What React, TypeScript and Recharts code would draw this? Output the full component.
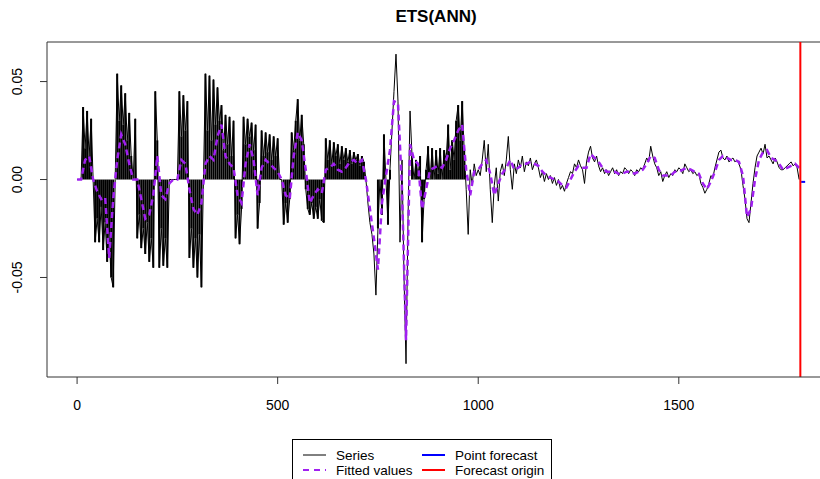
import React from 'react';
import { ComposedChart, Line, Bar, XAxis, YAxis, ReferenceLine } from 'recharts';

// all values in units of 0.001, one sample every STEP time units
const STEP = 5;

const seriesValues = [
  0, 0, 0, 37, 16, 35, 12, 31, 0, -32,
  -20, -32, -14, -36, -22, -42, -30, -50, -55, 0,
  54, 30, 48, 28, 44, 20, 34, 12, 0, 31,
  -30, -18, -35, -25, -38, -22, -42, -30, -45, 45,
  20, -45, -25, -44, -30, -45, 0, 0, 0, 0,
  0, 45, 22, 43, 25, 40, -40, -25, -45, -30,
  -50, -28, -55, 0, 54, 25, 53, 20, 51, 28,
  47, 30, 38, 15, 33, 18, 32, 12, 30, -30,
  -18, -33, -15, 32, 18, 31, 22, 29, 15, 28,
  -25, -12, 25, 12, 24, 14, 23, 10, 22, 12,
  21, 0, 0, -23, -12, -22, -10, 24, 15, 30,
  41, 20, 33, 18, -5, -15, -18, -12, -20, -14,
  -20, -10, -21, -22, 21, 10, 20, 8, 19, 12,
  18, 8, 17, 10, 16, 9, 15, 8, 14, 10,
  13, 7, 12, 9, 0, -12, -22, -28, -38, -59,
  -25, 0, -18, 23, 0, -23, 5, 25, 45, 64,
  40, -32, 10, -50, -94, -20, 35, 12, 0, 10,
  2, 12, -32, -10, 5, 17, 0, 16, 0, 15,
  3, 16, 0, 15, 10, 28, 5, 20, 10, 30,
  38, 20, 40, 15, -5, -28, 5, -3, 8, 2,
  5, 2, 10, 20, 4, 18, -5, -22, -3, 6,
  -11, 4, 8, 2, 10, 22, 5, -5, 8, 3,
  10, 6, 12, 4, 9, 7, 11, 5, 8, 10,
  6, 1, 4, -1, 3, 0, 2, -2, 1, -3,
  0, -5, -3, -6, -2, 1, 4, 3, 8, 6,
  10, 7, 5, -2, 9, 14, 17, 11, 9, 12,
  7, 4, 6, 3, 5, 2, 4, 6, 3, 5,
  2, 4, 3, 6, 5, 3, 5, 4, 2, 5,
  4, 6, 5, 8, 11, 9, 17, 12, 8, 6,
  2, 4, -1, 2, 4, 1, 3, 2, 5, 4,
  6, 5, 3, 8, 6, 4, 5, 3, 4, 2,
  3, -2, -4, -7, -5, -2, 2, 1, 6, 10,
  14, 15, 11, 10, 12, 9, 10, 11, 9, 10,
  8, 5, -3, -10, -20, -22, -12, -2, 6, 12,
  14, 16, 13, 18, 11, 12, 10, 8, 11, 9,
  6, 5, 5, 6, 7, 8, 9, 7, 8, 6,
  0,
];

// fitted values, one every 2*STEP
const fittedValues = [
  0, 0, 10, 12, 0, -6, -10, -9, -40, -10,
  10, 23, 18, 8, 0, 0, -10, -20, -18, -8,
  12, -8, -10, -2, 0, 0, 10, 8, -5, -15,
  -18, -12, 8, 12, 10, 22, 28, 12, 8, 6,
  -8, -12, 8, 18, 10, -8, 6, 10, 8, 6,
  4, 0, -8, -10, 12, 24, 20, 5, -12, -8,
  -5, -7, 5, 6, 8, 5, 4, 6, 9, 10,
  8, 10, 0, -15, -30, -46, -12, 2, 15, 40,
  39, -5, -82, 18, 10, 8, -15, -5, 5, 6,
  7, 6, 10, 16, 20, 25, 28, 5, -8, 4,
  5, 8, 10, 3, -8, -2, 3, 6, 10, 5,
  6, 8, 8, 9, 8, 7, 4, 2, 1, 0,
  -1, -3, -4, 0, 4, 7, 6, 6, 13, 11,
  9, 6, 4, 4, 4, 3, 3, 4, 4, 3,
  4, 5, 8, 12, 11, 5, 2, 2, 2, 4,
  4, 5, 6, 5, 4, 3, -2, -5, -1, 4,
  10, 12, 11, 10, 10, 9, 2, -19, -15, 0,
  10, 14, 15, 11, 10, 8, 5, 6, 7, 8,
  6,
];

// stretches where the series keeps dropping back to zero (drawn as spikes)
const intermittentSpans = [
  [0, 715],
  [750, 780],
  [835, 965],
];

const forecastOrigin = 1803;
const forecastTimes = [1805, 1810, 1815];
const forecastValues = [-1.2, -1.2, -1.2];

const xTicks = [0, 500, 1000, 1500];
const yTicks = [-0.05, 0, 0.05];
const X_DOMAIN = [-75, 1852];
const Y_DOMAIN = [-0.1008, 0.0702];

const isIntermittent = (t: number) => intermittentSpans.some(([a, b]) => t >= a && t <= b);

const data: any[] = seriesValues.map((v, i) => {
  const t = i * STEP;
  return {
    t,
    series: v / 1000,
    spike: isIntermittent(t) ? v / 1000 : undefined,
    fitted: i % 2 === 0 ? fittedValues[i / 2] / 1000 : undefined,
  };
});
forecastTimes.forEach((t, i) => data.push({ t, forecast: forecastValues[i] / 1000 }));

const FONT = '"Liberation Sans", Arial, sans-serif';

const XTick = ({ x, payload }: any) => (
  <text x={x} y={405} textAnchor="middle" dominantBaseline="central" fontSize={14} fontFamily={FONT} fill="#000">
    {payload.value}
  </text>
);

const YTick = ({ y, payload }: any) => (
  <text
    x={17}
    y={y}
    transform={`rotate(-90 17 ${y})`}
    textAnchor="middle"
    dominantBaseline="central"
    fontSize={14}
    fontFamily={FONT}
    fill="#000"
  >
    {payload.value.toFixed(2)}
  </text>
);

const legendItems = [
  { label: 'Series', color: '#000', width: 1, dash: undefined, col: 0, row: 0 },
  { label: 'Fitted values', color: '#A020F0', width: 2, dash: '6 5', col: 0, row: 1 },
  { label: 'Point forecast', color: '#0000FF', width: 2, dash: undefined, col: 1, row: 0 },
  { label: 'Forecast origin', color: '#FF0000', width: 2, dash: undefined, col: 1, row: 1 },
];

const ChartLegend = () => (
  <div
    style={{
      position: 'absolute',
      left: 292,
      top: 439,
      width: 260,
      height: 50,
      border: '1px solid #000',
      boxSizing: 'border-box',
      fontFamily: FONT,
      fontSize: 13.5,
    }}
  >
    {legendItems.map((it) => {
      const left = it.col === 0 ? 10 : 129;
      const top = it.row === 0 ? 15 : 30;
      return (
        <div key={it.label} style={{ position: 'absolute', left, top: top - 8, height: 16, display: 'flex', alignItems: 'center' }}>
          <svg width={23} height={16} style={{ display: 'block' }}>
            <line x1={0} x2={23} y1={8} y2={8} stroke={it.color} strokeWidth={it.width} strokeDasharray={it.dash} />
          </svg>
          <span style={{ marginLeft: 10, whiteSpace: 'nowrap' }}>{it.label}</span>
        </div>
      );
    })}
  </div>
);

export default function App() {
  return (
    <div style={{ position: 'absolute', left: 0, top: 0, width: 820, height: 479, overflow: 'hidden', background: '#fff' }}>
      <div
        style={{
          position: 'absolute',
          left: -6,
          width: 884,
          top: 7,
          textAlign: 'center',
          fontFamily: FONT,
          fontWeight: 'bold',
          fontSize: 17,
        }}
      >
        ETS(ANN)
      </div>
      <ComposedChart width={820} height={479} data={data} margin={{ top: 42, right: 0, bottom: 62, left: 0 }}>
        <XAxis
          dataKey="t"
          type="number"
          domain={X_DOMAIN}
          ticks={xTicks}
          allowDataOverflow
          height={40}
          tickSize={7}
          tick={<XTick />}
          stroke="#333"
        />
        <YAxis
          type="number"
          domain={Y_DOMAIN}
          ticks={yTicks}
          allowDataOverflow
          width={47}
          tickSize={7}
          tick={<YTick />}
          stroke="#333"
        />
        <ReferenceLine y={Y_DOMAIN[1]} stroke="#333" />
        <Bar dataKey="spike" fill="#000" barSize={2} isAnimationActive={false} />
        <Line dataKey="series" stroke="#000" strokeWidth={1} dot={false} isAnimationActive={false} />
        <Line
          dataKey="fitted"
          stroke="#A020F0"
          strokeWidth={2.5}
          strokeDasharray="6 4"
          dot={false}
          connectNulls
          isAnimationActive={false}
        />
        <Line dataKey="forecast" stroke="#0000FF" strokeWidth={2} dot={false} isAnimationActive={false} />
        <ReferenceLine x={forecastOrigin} stroke="#FF0000" strokeWidth={2} />
      </ComposedChart>
      <ChartLegend />
    </div>
  );
}
